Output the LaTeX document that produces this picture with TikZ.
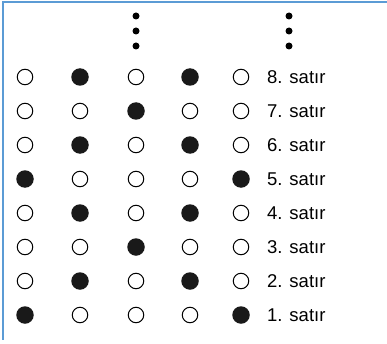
\documentclass[tikz,border=0pt]{standalone}
\usepackage{fontspec}
\setmainfont{Liberation Sans}
\definecolor{frameblue}{HTML}{5B9BD5}
\begin{document}
\begin{tikzpicture}[x=1pt,y=1pt,
  oc/.style={circle,draw=black,line width=1pt,fill=white,minimum size=15.5pt,inner sep=0pt},
  fc/.style={circle,fill=black!90,minimum size=17.5pt,inner sep=0pt},
  vdot/.style={circle,fill=black,minimum size=7pt,inner sep=0pt},
  lbl/.style={anchor=west,inner sep=0pt,font=\fontsize{18.5}{20}\selectfont},
  frame/.style={draw=frameblue,line width=1.6pt}]
\useasboundingbox (0,0) rectangle (387,343);
\coordinate (tl) at (3,341);
\coordinate (tr) at (387,341);
\coordinate (bl) at (3,3);
\draw[frame] (tr) -- (tl) -- (bl);
% vertical dots
\foreach \i/\y in {1/327,2/312,3/297}{
  \node[vdot] (da\i) at (136,\y) {};
  \node[vdot] (db\i) at (289,\y) {};
}
\foreach \r/\a/\b/\cc/\d/\e in {8/oc/fc/oc/fc/oc,7/oc/oc/fc/oc/oc,6/oc/fc/oc/fc/oc,5/fc/oc/oc/oc/fc,4/oc/fc/oc/fc/oc,3/oc/oc/fc/oc/oc,2/oc/fc/oc/fc/oc,1/fc/oc/oc/oc/fc}{
  \pgfmathsetmacro{\yy}{28+(\r-1)*34}
  \node[\a] (c\r-1) at (25,\yy) {};
  \node[\b] (c\r-2) at (80,\yy) {};
  \node[\cc] (c\r-3) at (136,\yy) {};
  \node[\d] (c\r-4) at (190,\yy) {};
  \node[\e] (c\r-5) at (241,\yy) {};
  \node[lbl] (l\r) at (267,\yy) {\r. satır};
}
\end{tikzpicture}
\end{document}
